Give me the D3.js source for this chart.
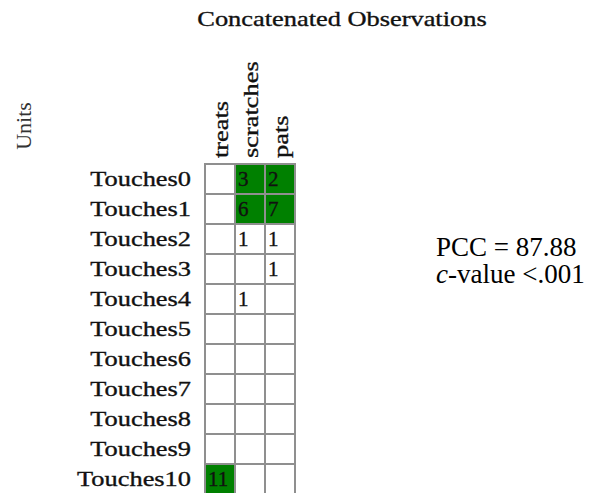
<!DOCTYPE html>
<html>
<head>
<meta charset="utf-8">
<script src="https://cdn.jsdelivr.net/npm/d3@7"></script>
<style>
body{margin:0;background:#fff;}
svg text{font-family:"Liberation Serif","Times New Roman",serif;fill:#111;}
svg text.lbl{stroke:#111;stroke-width:0.35px;}
</style>
</head>
<body>
<div id="chart"></div>
<script>
(function(){
var rowNames = ["Touches0","Touches1","Touches2","Touches3","Touches4","Touches5",
	"Touches6","Touches7","Touches8","Touches9","Touches10"];
var colNames = ["treats","scratches","pats"];
var treats    = [0,0,0,0,0,0,0,0,0,0,11];
var scratches = [3,6,1,0,1,0,0,0,0,0,0];
var pats      = [2,7,1,1,0,0,0,0,0,0,0];
var highlighted = [["scratches",0],["pats",0],["scratches",1],["pats",1],["treats",10]];
var title = "Concatenated Observations";
var pccText = "PCC = 87.88";

var W = 611, H = 493;
var Stretch = 1.2, LabelSize = 22;
var seriesByCol = {treats: treats, scratches: scratches, pats: pats};

var svg = d3.select("#chart").append("svg").attr("width", W).attr("height", H);

var x = d3.scaleBand().domain(colNames).range([205, 295]);
var y = d3.scaleBand().domain(rowNames).range([164, 494]);

var isGreen = function(col, r){
	return highlighted.some(function(h){ return h[0] === col && h[1] === r; });
};

var cells = [];
colNames.forEach(function(col){
	seriesByCol[col].forEach(function(v, r){
		cells.push({col: col, row: rowNames[r], idx: r, value: v});
	});
});

var cellG = svg.append("g").attr("class", "cells");
cellG.selectAll("rect").data(cells).enter().append("rect")
		.attr("x", function(d){ return x(d.col); })
		.attr("y", function(d){ return y(d.row); })
		.attr("width", x.bandwidth())
		.attr("height", y.bandwidth())
		.attr("fill", function(d){ return isGreen(d.col, d.idx) ? "#008000" : "#fff"; })
		.attr("stroke", "#8f8f8f")
		.attr("stroke-width", 2);

cellG.selectAll("text").data(cells.filter(function(d){ return d.value > 0; })).enter().append("text")
		.attr("class", "lbl")
		.attr("x", function(d){ return x(d.col) + 3; })
		.attr("y", function(d){ return y(d.row) + 22; })
		.attr("font-size", 21)
		.text(function(d){ return d.value; });

// row labels
svg.append("g").selectAll("text").data(rowNames).enter().append("text")
		.attr("class", "lbl")
		.attr("transform", function(d){ return "translate(191," + (y(d) + 22) + ") scale(" + Stretch + ",1)"; })
		.attr("text-anchor", "end")
		.attr("font-size", LabelSize)
		.text(function(d){ return d; });

// column headers, rotated
svg.append("g").selectAll("text").data(colNames).enter().append("text")
		.attr("class", "lbl")
		.attr("transform", function(d){
			return "translate(" + (x(d) + x.bandwidth() / 2 + 8) + ",158) rotate(-90) scale(" + Stretch + ",1)";
		})
		.attr("font-size", LabelSize)
		.text(function(d){ return d; });

svg.append("text")
		.attr("class", "lbl")
		.attr("transform", "translate(342,26) scale(" + Stretch + ",1)")
		.attr("text-anchor", "middle")
		.attr("font-size", LabelSize)
		.text(title);

svg.append("text")
		.attr("transform", "translate(31,126) rotate(-90)")
		.attr("text-anchor", "middle")
		.attr("font-size", LabelSize)
		.style("fill", "#333")
		.text("Units");

// stats
var stats = svg.append("g").attr("transform", "translate(436,0)");
stats.append("text").attr("y", 256).attr("font-size", 27).style("fill", "#000").text(pccText);
var cv = stats.append("text").attr("y", 283).attr("font-size", 27).style("fill", "#000");
cv.append("tspan").attr("font-style", "italic").text("c");
cv.append("tspan").text("-value <.001");
})();
</script>
</body>
</html>
